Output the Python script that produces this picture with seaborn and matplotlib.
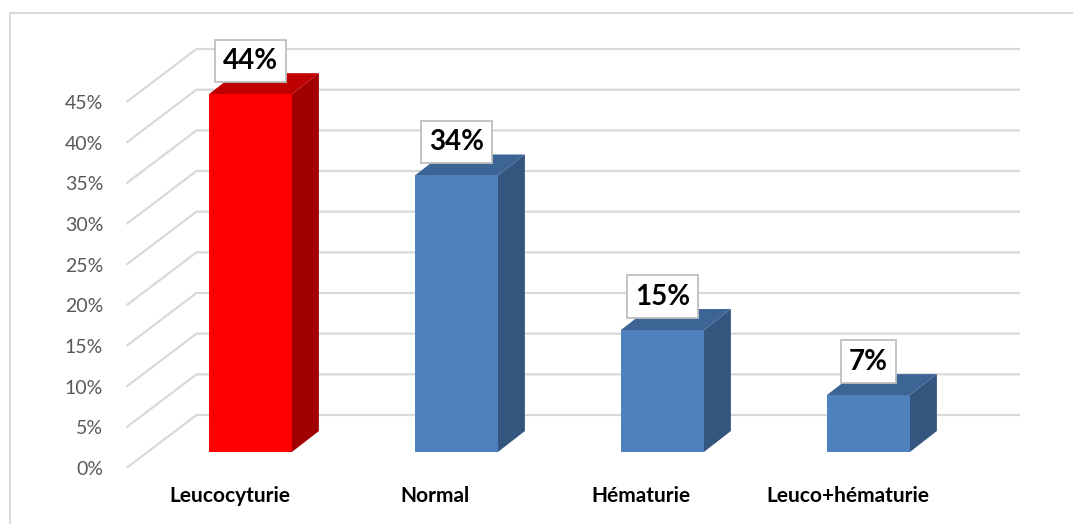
import matplotlib
matplotlib.use("Agg")
import matplotlib.pyplot as plt
from matplotlib.patches import Polygon, Rectangle
import seaborn as sns
import pandas as pd

# Data
categories = ["Leucocyturie", "Normal", "Hématurie", "Leuco+hématurie"]
values = [44, 34, 15, 7]
y_ticks = [0, 5, 10, 15, 20, 25, 30, 35, 40, 45]

# Colours: front face, side face, top face
front_colors = ["#ff0000", "#4f81bd", "#4f81bd", "#4f81bd"]
side_colors = ["#a00000", "#34557d", "#34557d", "#34557d"]
top_colors = ["#c00000", "#3c6596", "#3c6596", "#3c6596"]
grid_color = "#d9d9d9"

sns.set_theme(style="white")
plt.rcParams["font.family"] = ["Lato", "DejaVu Sans"]

W, H = 1073, 524
fig = plt.figure(figsize=(W / 100, H / 100), dpi=100)
fig.patch.set_facecolor("white")

# axes region in pixels (left, right, bottom, top)
px_l, px_r, px_b, px_t = 126, 1020, 468, 20
ax = fig.add_axes([px_l / W, (H - px_b) / H, (px_r - px_l) / W, (px_b - px_t) / H])

# pseudo-3D geometry (data units)
bar_w = 0.403
fx, fy = -0.102, -1.967      # front plane relative to bar plane
bx, by = 0.238, 4.55         # back wall relative to bar plane
ddx, ddy = 0.131, 2.58       # bar depth

df = pd.DataFrame({"cat": categories, "val": values})
sns.barplot(data=df, x="cat", y="val", hue="cat", palette=front_colors,
            width=bar_w, legend=False, saturation=1, linewidth=0,
            ax=ax, zorder=3)

ax.set_xlim(-0.604, 3.736)
ax.set_ylim(fy, 53.12)

# walls: diagonal on the left wall, horizontal on the back wall
for v in y_ticks:
    ax.plot([-0.5 + fx, -0.5 + bx, 3.5 + bx], [v + fy, v + by, v + by],
            color=grid_color, lw=1.6, solid_capstyle="butt", zorder=0)

for i, p in enumerate(list(ax.patches)):
    x0 = p.get_x()
    x1 = x0 + p.get_width()
    h = p.get_height()
    side = Polygon([(x1, 0), (x1 + ddx, ddy), (x1 + ddx, h + ddy), (x1, h)],
                   closed=True, facecolor=side_colors[i], edgecolor="none", zorder=2)
    top = Polygon([(x0, h), (x1, h), (x1 + ddx, h + ddy), (x0 + ddx, h + ddy)],
                  closed=True, facecolor=top_colors[i], edgecolor="none", zorder=2)
    ax.add_patch(side)
    ax.add_patch(top)
    ax.annotate(f"{values[i]}%", xy=(x0 + p.get_width() / 2, h),
                xytext=(0, 24), textcoords="offset points",
                ha="center", va="center", fontsize=20, fontweight="bold",
                color="black", zorder=6,
                bbox=dict(boxstyle="square,pad=0.3", facecolor="white",
                          edgecolor="#bfbfbf", lw=1.3))

# axis labels
ax.set_xticks([i + fx for i in range(len(categories))])
ax.set_xticklabels(categories, fontsize=15, fontweight="bold", color="black")
ax.set_yticks([v + fy for v in y_ticks])
ax.set_yticklabels([f"{v}%" for v in y_ticks], fontsize=14, color="#595959")
ax.tick_params(axis="y", length=0, pad=16.5)
ax.tick_params(axis="x", length=0, pad=13)
ax.set_xlabel("")
ax.set_ylabel("")
for s in ax.spines.values():
    s.set_visible(False)
ax.set_facecolor("none")

# outer chart frame
fig.patches.append(Rectangle((10 / W, -0.2), 1.2, (H - 13) / H + 0.2,
                             transform=fig.transFigure, facecolor="none",
                             edgecolor=grid_color, lw=1.4))

fig.savefig("out.png", dpi=100)
